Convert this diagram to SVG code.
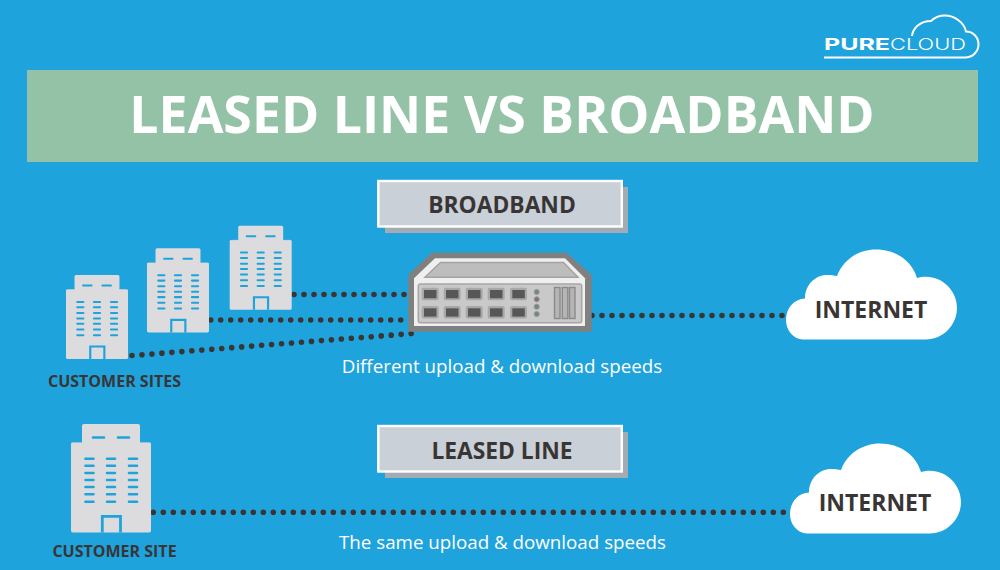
<svg xmlns="http://www.w3.org/2000/svg" width="1000" height="570" viewBox="0 0 1000 570">
<style>
text{font-family:"Open Sans","Liberation Sans",sans-serif}
.b{font-weight:700;fill:#3a3535;text-anchor:middle}
.n{font-size:18.75px;fill:#fff;text-anchor:middle}
.dots{fill:none;stroke:#3a3535;stroke-width:5.6;stroke-linecap:round;stroke-dasharray:0 10}
.port{fill:#a8a8a8}
.in{fill:#575757}
.led{fill:#70897a;stroke:#9c9c9c;stroke-width:1}
.slot{fill:#b5b5b5;stroke:#8a8a8a;stroke-width:1.4}
</style>
<defs>
<g id="bld">
<rect x="11" y="0" width="58" height="24" rx="2" fill="#dcdcde"/>
<rect x="0" y="18" width="80" height="90.5" rx="2" fill="#dcdcde"/>
<path d="M0 18H11M69 18H80" stroke="#1fa3dc" stroke-width="0.8"/>
<g stroke="#1fa3dc" stroke-width="2.6" stroke-linecap="round" fill="none">
<path d="M22 13.5H33M47 13.5H58"/>
<path d="M14.5 34.7h8M36 34.7h8M58 34.7h8M14.5 41.7h8M36 41.7h8M58 41.7h8M14.5 49h8M36 49h8M58 49h8M14.5 56h8M36 56h8M58 56h8M14.5 63h8M36 63h8M58 63h8M14.5 70.3h8M36 70.3h8M58 70.3h8M14.5 77.7h8M36 77.7h8M58 77.7h8"/>
</g>
<path d="M31.3 108.5V92.3H49.5V108.5" fill="none" stroke="#1fa3dc" stroke-width="2.8"/>
</g>
<path id="cloud" fill="#fff" d="M803 339.5C793 339 786 330 786 320C786 308 794 299 805 298.5C805 285 815 275 827 275C831 275 834 275.5 837 276C843 260 858 249.5 876 249.5C896 249.5 912 261 917 278C920 277 923 276.7 926 276.7C943 276.7 957 291 957 308C957 325 943 339.5 926 339.5Z"/>
</defs>
<rect width="1000" height="570" fill="#1fa3dc"/>
<g id="logo">
<path d="M824 57.5H965C973 57.5 978.5 51 978.5 44.5C978.5 37 973 31.5 966 31.5C964 22 954 15.5 945 15.5C938 15.5 934 18 931 21C920 21 913 28 912 36" fill="none" stroke="#fff" stroke-width="2"/>
<text x="824" y="49.500" font-size="16" font-weight="700" fill="#fff" textLength="66" lengthAdjust="spacingAndGlyphs" style="font-family:Inter,'Open Sans',sans-serif">PURE</text>
<text x="890" y="49.500" font-size="16" font-weight="300" fill="#fff" textLength="76" lengthAdjust="spacingAndGlyphs" style="font-family:Inter,'Open Sans',sans-serif">CLOUD</text>
</g>
<g id="title">
<rect x="27" y="70" width="951" height="92" fill="#94c2a6"/>
<text x="502" y="133" font-size="51.800" font-weight="700" fill="#fff" text-anchor="middle">LEASED LINE VS BROADBAND</text>
</g>
<g id="label-broadband">
<rect x="385" y="187" width="243" height="46" fill="#a5abb2"/>
<rect x="378.300" y="181" width="243.500" height="45.500" fill="#c9d0d7" stroke="#fff" stroke-width="2.400"/>
<text class="b" x="502" y="212.500" font-size="22.800">BROADBAND</text>
</g>
<g id="label-leased">
<rect x="385" y="432" width="243" height="46" fill="#a5abb2"/>
<rect x="378.300" y="426" width="243.500" height="45.500" fill="#c9d0d7" stroke="#fff" stroke-width="2.400"/>
<text class="b" x="502" y="458.500" font-size="22.800">LEASED LINE</text>
</g>
<g id="connectors">
<path class="dots" d="M294 294.500H408"/>
<path class="dots" d="M210.700 320H405"/>
<path class="dots" d="M132 355.500L412 333.500"/>
<path class="dots" d="M592 315.500H786"/>
<path class="dots" d="M153.300 512.300H790"/>
</g>
<g id="site-3"><use href="#bld" transform="translate(229.700 225.700) scale(.775)"/></g>
<g id="site-2"><use href="#bld" transform="translate(147 248.300) scale(.775)"/></g>
<g id="site-1"><use href="#bld" transform="translate(66 275) scale(.775)"/></g>
<text class="b" x="114.500" y="386.500" font-size="16">CUSTOMER SITES</text>
<g id="router">
<path fill="#808080" d="M431.700 252.700H566.700L591.700 275V331.700H408.300V275Z"/>
<path fill="#efefef" d="M435 258.300H565L585 278.300V326H414V278.300Z"/>
<path fill="#bdbdbd" stroke="#a3a3a3" stroke-width="1.500" d="M440.500 262.500H563.500L578 277.300H425Z"/>
<rect x="418.300" y="284" width="163.400" height="38.700" rx="2" fill="#c9c9c9" stroke="#a6a6a6" stroke-width="1.500"/>
<g>
<rect class="port" x="421.700" y="287.700" width="17" height="12.600" rx="2"/><rect class="in" x="424" y="290" width="12.500" height="8.300"/>
<rect class="port" x="443.700" y="287.700" width="17" height="12.600" rx="2"/><rect class="in" x="446" y="290" width="12.500" height="8.300"/>
<rect class="port" x="465.700" y="287.700" width="17" height="12.600" rx="2"/><rect class="in" x="468" y="290" width="12.500" height="8.300"/>
<rect class="port" x="487.700" y="287.700" width="17" height="12.600" rx="2"/><rect class="in" x="490" y="290" width="12.500" height="8.300"/>
<rect class="port" x="510" y="287.700" width="17" height="12.600" rx="2"/><rect class="in" x="512.300" y="290" width="12.500" height="8.300"/>
<rect class="port" x="421.700" y="306" width="17" height="12.600" rx="2"/><rect class="in" x="424" y="308.300" width="12.500" height="8.300"/>
<rect class="port" x="443.700" y="306" width="17" height="12.600" rx="2"/><rect class="in" x="446" y="308.300" width="12.500" height="8.300"/>
<rect class="port" x="465.700" y="306" width="17" height="12.600" rx="2"/><rect class="in" x="468" y="308.300" width="12.500" height="8.300"/>
<rect class="port" x="487.700" y="306" width="17" height="12.600" rx="2"/><rect class="in" x="490" y="308.300" width="12.500" height="8.300"/>
<rect class="port" x="510" y="306" width="17" height="12.600" rx="2"/><rect class="in" x="512.300" y="308.300" width="12.500" height="8.300"/>
</g>
<circle class="led" cx="536.700" cy="292" r="2.600"/>
<circle class="led" cx="536.700" cy="299.300" r="2.600" style="fill:#8a6f70"/>
<circle class="led" cx="536.700" cy="306.700" r="2.600"/>
<circle class="led" cx="536.700" cy="314" r="2.600"/>
<rect class="slot" x="554.500" y="287.500" width="5.500" height="31"/>
<rect class="slot" x="562.300" y="287.500" width="5.500" height="31"/>
<rect class="slot" x="569.500" y="287.500" width="5.500" height="31"/>
</g>
<text class="n" x="502" y="372.500">Different upload &amp; download speeds</text>
<g id="internet-1"><use href="#cloud"/><text class="b" x="871" y="318" font-size="23">INTERNET</text></g>
<g id="site-single"><use href="#bld" transform="translate(71 424)"/></g>
<text class="b" x="114.500" y="557" font-size="16">CUSTOMER SITE</text>
<text class="n" x="502.500" y="548.500">The same upload &amp; download speeds</text>
<g id="internet-2"><use href="#cloud" transform="translate(4 194)"/><text class="b" x="875" y="511" font-size="23">INTERNET</text></g>
</svg>
